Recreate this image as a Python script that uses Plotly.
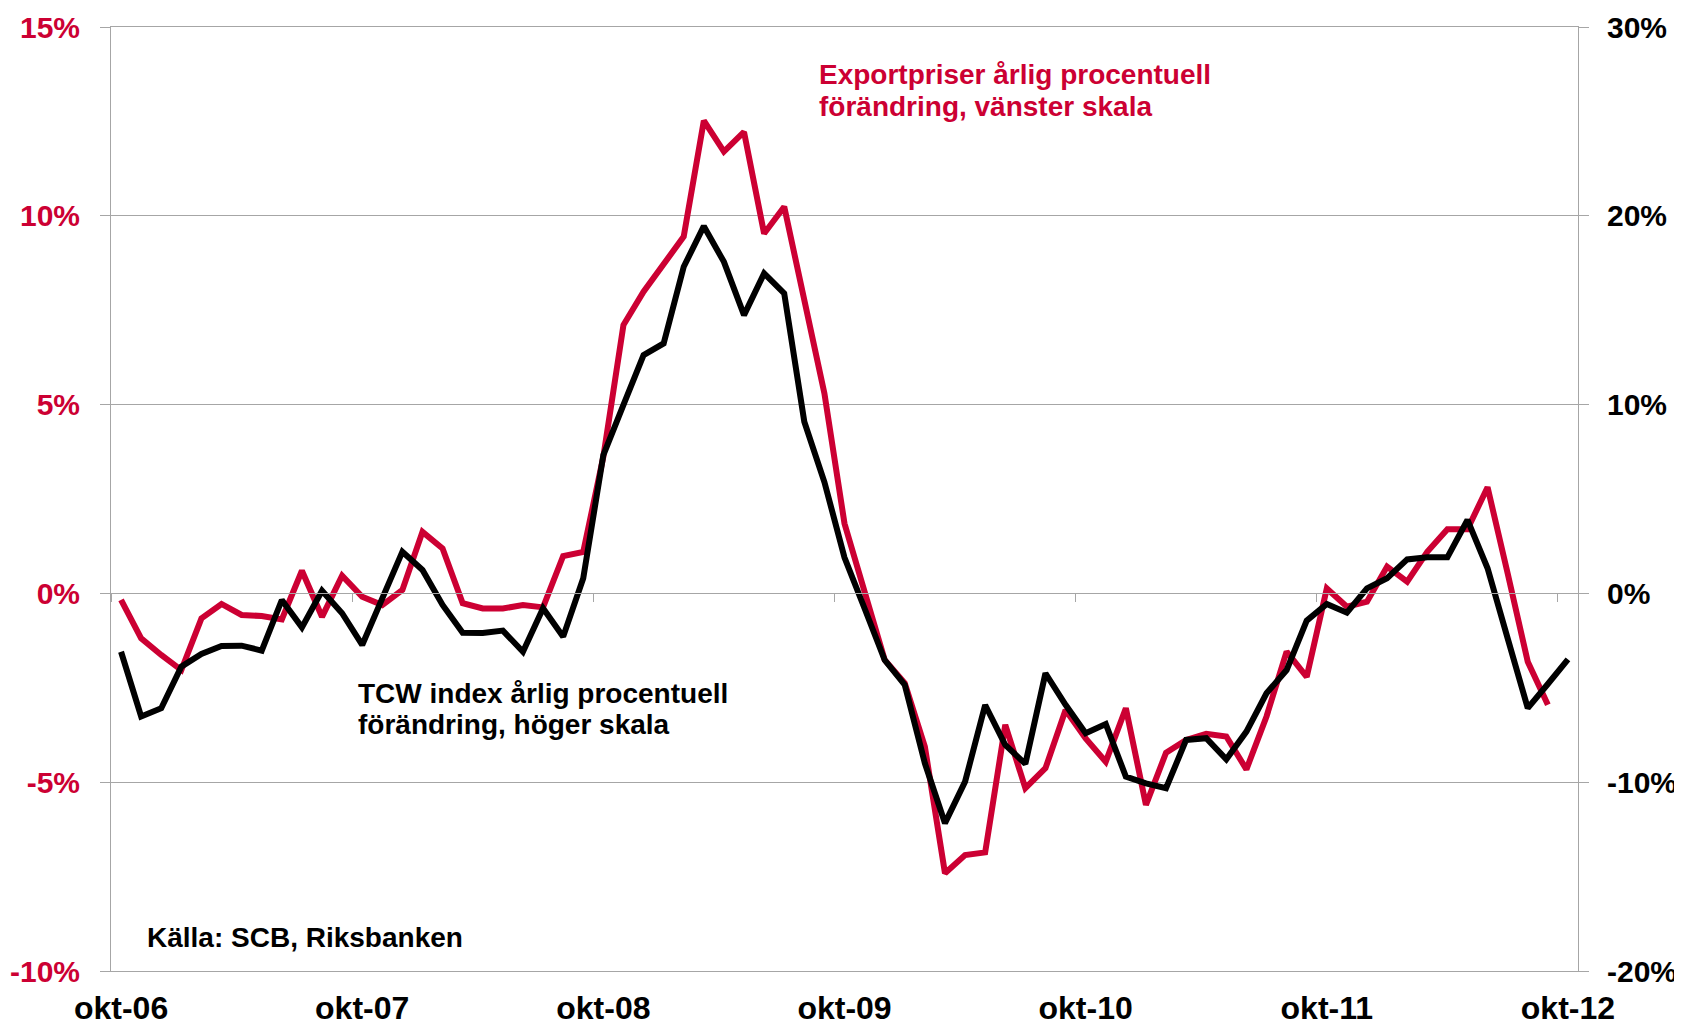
import plotly.graph_objects as go

# ---------------- data ----------------
MONTHS_SV = ["jan", "feb", "mar", "apr", "maj", "jun", "jul", "aug", "sep", "okt", "nov", "dec"]
months = [f"{MONTHS_SV[(9 + i) % 12]}-{6 + (9 + i) // 12:02d}" for i in range(73)]  # okt-06 .. okt-12

# Exportpriser, årlig procentuell förändring (vänster skala, %)
export_prices = [
    -0.17, -1.19, -1.63, -2.03, -0.66, -0.28, -0.57, -0.60, -0.69, 0.60, -0.62, 0.47,
    -0.09, -0.31, 0.09, 1.63, 1.19, -0.26, -0.40, -0.40, -0.31, -0.37, 0.99, 1.10,
    3.62, 7.11, 7.99, 8.74, 9.45, 12.52, 11.70, 12.22, 9.53, 10.24, 7.77, 5.30,
    1.85, 0.10, -1.76, -2.38, -4.06, -7.41, -6.93, -6.86, -3.48, -5.16, -4.63, -3.09,
    -3.84, -4.46, -3.04, -5.60, -4.22, -3.88, -3.72, -3.79, -4.66, -3.26, -1.54, -2.21,
    0.13, -0.35, -0.22, 0.71, 0.31, 1.10, 1.70, 1.70, 2.81, 0.53, -1.81, -2.95,
    None,
]

# TCW index, årlig procentuell förändring (höger skala, %)
tcw_index = [
    -3.09, -6.52, -6.08, -3.88, -3.21, -2.79, -2.77, -3.03, -0.35, -1.80, 0.14, -1.05,
    -2.73, -0.26, 2.21, 1.24, -0.61, -2.08, -2.10, -1.97, -3.09, -0.79, -2.29, 0.80,
    7.33, 9.98, 12.62, 13.24, 17.30, 19.45, 17.56, 14.74, 16.95, 15.89, 9.09, 5.90,
    1.90, -0.80, -3.53, -4.85, -9.00, -12.17, -9.97, -5.91, -8.03, -9.03, -4.23, -5.90,
    -7.41, -6.92, -9.70, -10.06, -10.32, -7.76, -7.67, -8.79, -7.32, -5.29, -4.06, -1.44,
    -0.56, -1.02, 0.27, 0.80, 1.80, 1.91, 1.91, 3.89, 1.33, -2.38, -6.08, -4.80,
    -3.49,
]

x_tick_labels = ["okt-06", "okt-07", "okt-08", "okt-09", "okt-10", "okt-11", "okt-12"]
left_tick_vals = [-10, -5, 0, 5, 10, 15]
left_tick_text = ["-10%", "-5%", "0%", "5%", "10%", "15%"]
right_tick_vals = [-20, -10, 0, 10, 20, 30]
right_tick_text = ["-20%", "-10%", "0%", "10%", "20%", "30%"]
year_boundaries = [-0.5 + 12 * k for k in range(7)]

# ---------------- style ----------------
RED = "#CC0033"
BLACK = "#000000"
GRAY = "#A6A6A6"
FONT = "Liberation Sans, Arial, sans-serif"

fig = go.Figure()
fig.add_trace(go.Scatter(x=months, y=export_prices, mode="lines",
                         line=dict(color=RED, width=6), name="Exportpriser",
                         xaxis="x", yaxis="y", hoverinfo="skip"))
fig.add_trace(go.Scatter(x=months, y=tcw_index, mode="lines",
                         line=dict(color=BLACK, width=6), name="TCW index",
                         xaxis="x", yaxis="y2", hoverinfo="skip"))
# carrier for the year tick marks on the 0-line
fig.add_trace(go.Scatter(x=[None], y=[None], xaxis="x2", yaxis="y",
                         showlegend=False, hoverinfo="skip"))

# plot-area edges in page pixels; the page body adds an 8 px offset
OFF = 8
PL, PR, PT, PB = 111, 1578, 27, 971
W, H = 1682 - OFF, 1028 - OFF


def px(x):
    return (x - PL) / (PR - PL)


def py(y):
    return (PB - y) / (PB - PT)


def note(text, x, y, color):
    fig.add_annotation(text=text, xref="paper", yref="paper", x=px(x), y=py(y),
                       xanchor="left", yanchor="middle", showarrow=False,
                       font=dict(family=FONT, size=28, color=color, weight="bold"))


note("Exportpriser årlig procentuell", 817, 74, RED)
note("förändring, vänster skala", 817, 106.5, RED)
note("TCW index årlig procentuell", 356, 693.5, BLACK)
note("förändring, höger skala", 356, 725, BLACK)
note("Källa: SCB, Riksbanken", 145, 937.5, BLACK)

fig.update_layout(
    template="none",
    width=W, height=H, autosize=False,
    margin=dict(l=PL - OFF, r=W - (PR - OFF), t=PT - OFF, b=H - (PB - OFF), pad=0),
    paper_bgcolor="white", plot_bgcolor="white",
    showlegend=False,
    font=dict(family=FONT, color=BLACK),
    xaxis=dict(
        type="category", range=[-0.5, 72.5], automargin=False,
        tickvals=x_tick_labels, ticktext=x_tick_labels,
        ticks="", showgrid=False, zeroline=False,
        showline=True, linecolor=GRAY, linewidth=1, mirror=True,
        tickfont=dict(family=FONT, size=32, color=BLACK, weight="bold"),
        ticklabelstandoff=9,
    ),
    xaxis2=dict(
        overlaying="x", anchor="free", position=0.4, type="linear",
        range=[-0.5, 72.5], tickvals=year_boundaries, automargin=False,
        ticks="outside", ticklen=8, tickwidth=1, tickcolor=GRAY,
        showline=True, linecolor=GRAY, linewidth=1,
        showticklabels=False, showgrid=False, zeroline=False,
    ),
    yaxis=dict(
        range=[-10, 15], tickvals=left_tick_vals, ticktext=left_tick_text,
        automargin=False,
        showgrid=True, gridcolor=GRAY, gridwidth=1, zeroline=False,
        showline=True, linecolor=GRAY, linewidth=1,
        ticks="outside", ticklen=10, tickcolor=GRAY, tickwidth=1,
        tickfont=dict(family=FONT, size=30, color=RED, weight="bold"),
        ticklabelstandoff=14,
    ),
    yaxis2=dict(
        overlaying="y", side="right", range=[-20, 30], automargin=False,
        tickvals=right_tick_vals, ticktext=right_tick_text,
        showgrid=False, zeroline=False,
        showline=True, linecolor=GRAY, linewidth=1,
        ticks="outside", ticklen=10, tickcolor=GRAY, tickwidth=1,
        tickfont=dict(family=FONT, size=30, color=BLACK, weight="bold"),
        ticklabelstandoff=12,
    ),
)

fig.write_html("out.html")
